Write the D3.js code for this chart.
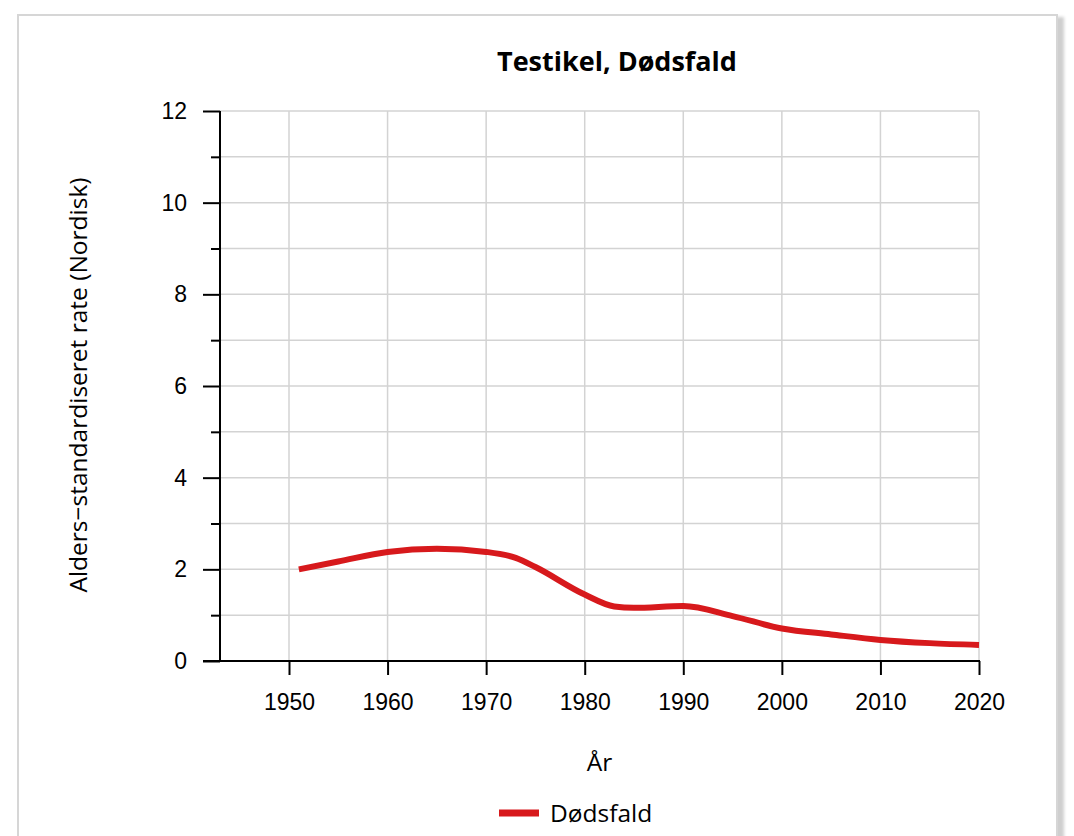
<!DOCTYPE html>
<html>
<head>
<meta charset="utf-8">
<script src="https://cdn.jsdelivr.net/npm/d3@7"></script>
<style>
  body { margin: 0; background: #fff; }
  #panel {
    position: absolute; left: 17px; top: 14px;
    width: 1037px; height: 860px;
    border: 2px solid #d6d6d6;
    box-shadow: 6px 3px 3px #cfcfcf;
    background: #fff;
  }
  svg { position: absolute; left: 0; top: 0; }
</style>
</head>
<body>
<div id="panel"></div>
<svg id="chart" width="1074" height="836"></svg>
<script>
// chart values
var years = [1951, 1955, 1960, 1965, 1970, 1973, 1975, 1980, 1983, 1985, 1990, 1995, 2000, 2005, 2010, 2015, 2020];
var rates = [2.00, 2.17, 2.38, 2.45, 2.38, 2.25, 2.05, 1.45, 1.19, 1.16, 1.20, 0.98, 0.71, 0.58, 0.46, 0.39, 0.35];
var xTicks = [1950, 1960, 1970, 1980, 1990, 2000, 2010, 2020];
var yMajor = [0, 2, 4, 6, 8, 10, 12];
var yMinor = [1, 3, 5, 7, 9, 11];
var title = 'Testikel, Dødsfald';
var xTitle = 'År';
var yTitle = 'Alders\u2212standardiseret rate (Nordisk)';
var seriesName = 'Dødsfald';

var red = '#d7191c';
var grid = '#d3d3d3';
var tickFont = '"Liberation Sans", Arial, sans-serif';
var textFont = '"Open Sans", "Noto Sans", sans-serif';

var svg = d3.select('#chart');

var x = d3.scaleLinear().domain([1943, 2020]).range([220, 979]);
var y = d3.scaleLinear().domain([0, 12]).range([661, 111]);

// grid lines
svg.append('g')
  .selectAll('line.h')
  .data(d3.range(0, 13))
  .join('line')
  .attr('x1', x(1943)).attr('x2', x(2020))
  .attr('y1', d => y(d)).attr('y2', d => y(d))
  .attr('stroke', grid).attr('stroke-width', 1.5);

svg.append('g')
  .selectAll('line.v')
  .data(xTicks)
  .join('line')
  .attr('x1', d => x(d)).attr('x2', d => x(d))
  .attr('y1', y(0)).attr('y2', y(12))
  .attr('stroke', grid).attr('stroke-width', 1.5);

// y axis, major ticks with labels
var yAxis = d3.axisLeft(y).tickValues(yMajor).tickSize(17).tickPadding(16).tickFormat(d3.format('d'));
var gy = svg.append('g').attr('transform', 'translate(' + x(1943) + ',0)').call(yAxis);
gy.select('.domain').remove();
gy.selectAll('.tick line').attr('stroke', '#000').attr('stroke-width', 2);
gy.selectAll('.tick text').attr('font-family', tickFont).attr('font-size', 23).attr('fill', '#000');

// minor y ticks
var yMinorAxis = d3.axisLeft(y).tickValues(yMinor).tickSize(9).tickFormat('');
var gym = svg.append('g').attr('transform', 'translate(' + x(1943) + ',0)').call(yMinorAxis);
gym.select('.domain').remove();
gym.selectAll('.tick line').attr('stroke', '#000').attr('stroke-width', 2);

svg.append('line')
  .attr('x1', x(1943)).attr('x2', x(1943))
  .attr('y1', y(12)).attr('y2', y(0))
  .attr('stroke', '#000').attr('stroke-width', 2);

// x axis
var xAxis = d3.axisBottom(x).tickValues(xTicks).tickSize(14).tickPadding(19).tickFormat(d3.format('d'));
var gx = svg.append('g').attr('transform', 'translate(0,' + y(0) + ')').call(xAxis);
gx.select('.domain').remove();
gx.selectAll('.tick line').attr('stroke', '#000').attr('stroke-width', 2);
gx.selectAll('.tick text').attr('font-family', tickFont).attr('font-size', 23).attr('fill', '#000');

svg.append('line')
  .attr('x1', x(1943) - 17).attr('x2', x(2020) + 1)
  .attr('y1', y(0)).attr('y2', y(0))
  .attr('stroke', '#000').attr('stroke-width', 2);

// the series line
var line = d3.line()
  .x((d, i) => x(years[i]))
  .y(d => y(d))
  .curve(d3.curveMonotoneX);

svg.append('path')
  .datum(rates)
  .attr('d', line)
  .attr('fill', 'none')
  .attr('stroke', red)
  .attr('stroke-width', 6);

// titles
svg.append('text')
  .attr('x', 617).attr('y', 71)
  .attr('text-anchor', 'middle')
  .attr('font-family', textFont).attr('font-weight', 'bold').attr('font-size', 27)
  .text(title);

svg.append('text')
  .attr('x', (x(1943) + x(2020)) / 2).attr('y', 771)
  .attr('text-anchor', 'middle')
  .attr('font-family', textFont).attr('font-size', 24.5)
  .text(xTitle);

svg.append('text')
  .attr('transform', 'translate(87,' + ((y(0) + y(12)) / 2 - 1) + ') rotate(-90)')
  .attr('text-anchor', 'middle')
  .attr('font-family', textFont).attr('font-size', 24.5)
  .text(yTitle);

// legend
var lg = svg.append('g');
lg.append('line')
  .attr('x1', 499).attr('x2', 539)
  .attr('y1', 813).attr('y2', 813)
  .attr('stroke', red).attr('stroke-width', 7);
lg.append('text')
  .attr('x', 550).attr('y', 822)
  .attr('font-family', textFont).attr('font-size', 24.5)
  .text(seriesName);
</script>
</body>
</html>
